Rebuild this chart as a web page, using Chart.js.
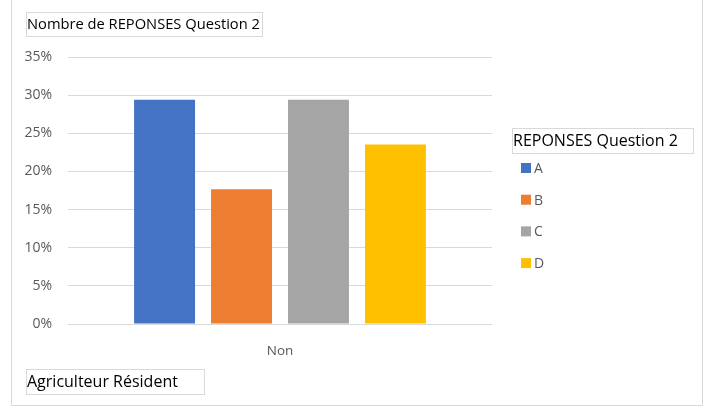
<!DOCTYPE html>
<html><head><meta charset="utf-8">
<script src="https://cdn.jsdelivr.net/npm/chart.js@4"></script>
<style>html,body{margin:0;padding:0;background:#fff}canvas{display:block}</style>
</head><body>
<canvas id="c" width="712" height="409"></canvas>
<script>
const categories = ["Non"];
const seriesNames = ["A", "B", "C", "D"];
const seriesValues = [[0.2941], [0.1765], [0.2941], [0.2353]];
const seriesColors = ["#4472C4", "#ED7D31", "#A5A5A5", "#FFC000"];
const chartTitle = "Nombre de REPONSES Question 2";
const legendTitle = "REPONSES Question 2";
const filterLabel = "Agriculteur Résident";

const FONT = "'Open Sans', 'Noto Sans', sans-serif";

function box(ctx, x, y, w, h, text, targetW) {
  ctx.save();
  ctx.strokeStyle = "#d9d9d9";
  ctx.lineWidth = 1;
  ctx.strokeRect(x + 0.5, y + 0.5, w, h);
  ctx.font = "14px " + FONT;
  const m = ctx.measureText(text).width;
  let size = Math.min(16, Math.max(12, 14 * targetW / m));
  ctx.font = size.toFixed(2) + "px " + FONT;
  ctx.fillStyle = "#000";
  ctx.textBaseline = "middle";
  ctx.fillText(text, x + 1, y + h / 2 + 1);
  ctx.restore();
}

const decor = {
  id: "decor",
  beforeDraw(chart) {
    const ctx = chart.ctx;
    ctx.save();
    ctx.fillStyle = "#fff";
    ctx.fillRect(0, 0, chart.width, chart.height);
    ctx.strokeStyle = "#d9d9d9";
    ctx.lineWidth = 1;
    ctx.strokeRect(11.5, -0.5, 691, 406);
    ctx.restore();
  },
  afterDraw(chart) {
    const ctx = chart.ctx;
    box(ctx, 26, 12, 236, 24, chartTitle, 233);
    box(ctx, 512, 128, 181, 25, legendTitle, 165);
    box(ctx, 26, 369, 178, 25, filterLabel, 154);
    ctx.save();
    ctx.font = "14px " + FONT;
    ctx.textBaseline = "middle";
    chart.data.datasets.forEach((ds, i) => {
      const y = 168 + i * 31.7;
      ctx.fillStyle = ds.backgroundColor;
      ctx.fillRect(521, y - 5, 10, 10);
      ctx.fillStyle = "#595959";
      ctx.fillText(ds.label, 534, y + 1);
    });
    ctx.restore();
  }
};

new Chart(document.getElementById("c"), {
  type: "bar",
  data: {
    labels: categories,
    datasets: seriesNames.map((n, i) => ({
      label: n,
      data: seriesValues[i],
      backgroundColor: seriesColors[i],
      categoryPercentage: 0.726,
      barPercentage: 0.792
    }))
  },
  options: {
    responsive: false,
    animation: false,
    devicePixelRatio: 1,
    layout: { padding: { left: 0, right: 220, top: 57, bottom: 0 } },
    plugins: { legend: { display: false }, tooltip: { enabled: false } },
    scales: {
      x: {
        grid: { display: false },
        border: { display: false },
        ticks: { color: "#595959", font: { family: FONT, size: 13.5 }, padding: 11 },
        afterFit(s) { s.height = 85; }
      },
      y: {
        min: 0, max: 0.35,
        ticks: {
          stepSize: 0.05,
          color: "#595959",
          font: { family: FONT, size: 14 },
          padding: 16,
          callback: v => Math.round(v * 100) + "%"
        },
        grid: { color: "#d9d9d9", lineWidth: 1, drawTicks: false },
        border: { display: false },
        afterFit(s) { s.width = 68; }
      }
    }
  },
  plugins: [decor]
});
</script>
</body></html>
